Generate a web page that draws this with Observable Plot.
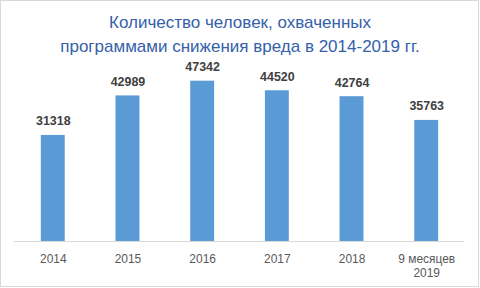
<!DOCTYPE html>
<html>
<head>
<meta charset="utf-8">
<script src="https://cdn.jsdelivr.net/npm/d3@7"></script>
<script src="https://cdn.jsdelivr.net/npm/@observablehq/plot@0.6"></script>
<style>
  html, body { margin: 0; padding: 0; background: #fff; }
  #wrap { position: relative; width: 479px; height: 287px; box-sizing: border-box; border: 1px solid #D9D9D9; background: #fff; overflow: hidden; }
  #title { position: absolute; left: -1px; top: 10px; width: 480px; text-align: center; font-family: "Liberation Sans", Arial, sans-serif; font-size: 17px; line-height: 24px; color: #3560AA; z-index: 2; }
  #chart { position: absolute; left: -1px; top: -1px; }
</style>
</head>
<body>
<div id="wrap">
  <div id="title">Количество человек, охваченных<br>программами снижения вреда в 2014-2019 гг.</div>
  <div id="chart"></div>
</div>
<script>
const categories = ["2014", "2015", "2016", "2017", "2018", "9 месяцев\n2019"];
const values = [31318, 42989, 47342, 44520, 42764, 35763];

const data = categories.map((c, i) => ({category: c, value: values[i]}));

const plot = Plot.plot({
  width: 480,
  height: 288,
  marginTop: 72,
  marginBottom: 46,
  marginLeft: 14,
  marginRight: 14,
  style: {fontFamily: "Liberation Sans, Arial, sans-serif", background: "transparent"},
  x: {domain: categories, paddingInner: 0.68, paddingOuter: 0.34, axis: null},
  y: {domain: [0, 50000], axis: null},
  marks: [
    Plot.barY(data, {x: "category", y: "value", fill: "#5B9BD5"}),
    Plot.ruleY([0], {stroke: "#D9D9D9", strokeWidth: 1}),
    Plot.text(data, {x: "category", y: "value", text: d => String(d.value), dy: -14, fontSize: 12.5, fontWeight: "bold", fill: "#404040"}),
    Plot.axisX({tickSize: 0, tickPadding: 11, fontSize: 12, lineHeight: 1.2, color: "#595959", label: null})
  ]
});
document.getElementById("chart").appendChild(plot);
</script>
</body>
</html>
